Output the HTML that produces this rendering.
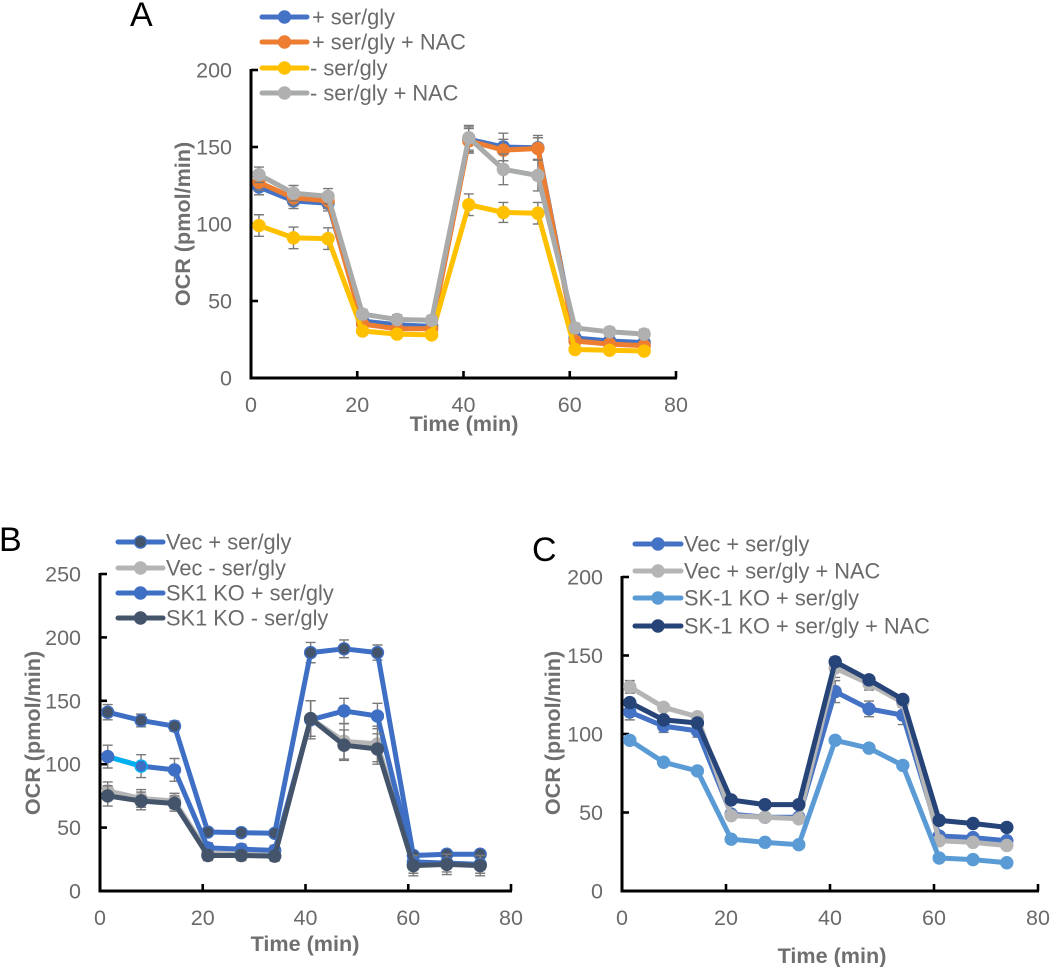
<!DOCTYPE html>
<html>
<head>
<meta charset="utf-8">
<title>OCR time course charts</title>
<style>
html,body{margin:0;padding:0;background:#fff;}
#stage{display:block;width:1050px;height:967px;font-family:"Liberation Sans",sans-serif;filter:blur(0.35px);}
text{font-family:"Liberation Sans",sans-serif;}
</style>
</head>
<body>
<svg id="stage" xmlns="http://www.w3.org/2000/svg" width="1050" height="967" viewBox="0 0 1050 967"></svg>
<script>
// Shared x axis data
const times = [1.5, 8, 14.5, 21, 27.5, 34, 41, 47.5, 54, 61, 67.5, 74];
const xTicks = [0, 20, 40, 60, 80];

// Panel A values
const aYTicks = [0, 50, 100, 150, 200];
const aPlusSerGly = [124, 115, 113.5, 37, 34.5, 33.5, 155, 150, 149.5, 26, 24, 23];
const aPlusSerGlyErr = [5, 5, 5, 4, 3, 3, 8, 9, 8, 4, 3, 3];
const aPlusNac = [127, 117, 115, 35, 32, 32, 154, 148, 149, 24, 22, 21];
const aPlusNacErr = [5, 5, 5, 3, 3, 3, 8, 7, 7, 3, 3, 3];
const aMinusSerGly = [99, 91, 90.5, 30.5, 28.5, 28, 112.5, 107.5, 107, 18.5, 18, 17.5];
const aMinusSerGlyErr = [7, 7, 7, 2, 2, 2, 7, 6.5, 7, 2, 2, 2];
const aMinusNac = [132, 120, 118, 41.5, 38, 37.5, 156, 135.5, 131.5, 32.5, 30, 28.5];
const aMinusNacErr = [5, 5, 5, 3, 3, 3, 8, 10, 10, 3, 3, 3];

// Panel B values
const bYTicks = [0, 50, 100, 150, 200, 250];
const bVecPlus = [141, 134.5, 130, 46.5, 46, 45.5, 188, 191, 188, 28, 29, 29];
const bVecPlusErr = [6, 5, 4, 3, 3, 3, 8, 7, 6, 3, 3, 3];
const bVecMinus = [79, 73, 71, 30, 29, 28, 136, 118, 116, 21, 22, 21];
const bVecMinusErr = [7, 7, 6, 3, 3, 3, 14, 14, 14, 7, 7, 7];
const bKoPlus = [106, 98.5, 95.5, 34, 33, 32, 135, 142, 138, 23, 22, 21];
const bKoPlusErr = [9, 9, 9, 4, 4, 4, 15, 10, 10, 3, 3, 3];
const bKoMinus = [75, 71, 69, 28, 28, 27.5, 136, 115, 112, 20, 21, 20];
const bKoMinusErr = [8, 7, 6, 4, 4, 4, 14, 12, 12, 8, 8, 8];

// Panel C values
const cYTicks = [0, 50, 100, 150, 200];
const cVecPlus = [114, 105, 102, 49, 47, 47, 127, 116, 112, 35, 34, 32];
const cVecPlusErr = [5, 4, 4, 1, 1, 1, 7, 5, 6, 1, 1, 1];
const cVecNac = [130, 117, 111, 48, 47, 46, 142, 132, 120, 32, 31, 29];
const cVecNacErr = [4, 2, 2, 1, 1, 1, 6, 4, 3, 1, 1, 1];
const cKoPlus = [96, 82, 76.5, 33, 31, 29.5, 96, 91, 80, 21, 20, 18];
const cKoPlusErr = [1, 1, 1, 1, 1, 1, 1, 1, 1, 1, 1, 1];
const cKoNac = [120, 109, 107, 58, 55, 55, 146, 134.5, 122, 45, 43, 40.5];
const cKoNacErr = [2, 2, 2, 1, 1, 1, 3, 2, 2, 1, 1, 1];

// Panel configuration
const panels = [
  {
    id: 'a', letter: 'A', letterX: 130, letterY: 26,
    x0: 251, x80: 676, y0: 378, yTop: 70, yMax: 200, yTicks: aYTicks,
    titleX: 190, titleY: 224, timeX: 464, timeY: 431, tickY: 412,
    legendX1: 262, legendX2: 307, legendTextX: [312, 312, 310, 310], legendY: [17, 42, 68, 93],
    series: [
      {name: '+ ser/gly', key: 'plus-ser-gly', vals: aPlusSerGly, errs: aPlusSerGlyErr, color: '#4472C4', fill: '#4472C4', edge: '#4472C4'},
      {name: '+ ser/gly + NAC', key: 'plus-ser-gly-nac', vals: aPlusNac, errs: aPlusNacErr, color: '#ED7D31', fill: '#ED7D31', edge: '#ED7D31'},
      {name: '- ser/gly', key: 'minus-ser-gly', vals: aMinusSerGly, errs: aMinusSerGlyErr, color: '#FFC000', fill: '#FFC000', edge: '#FFC000'},
      {name: '- ser/gly + NAC', key: 'minus-ser-gly-nac', vals: aMinusNac, errs: aMinusNacErr, color: '#A9ABAB', fill: '#B0B0B0', edge: '#B0B0B0'}
    ]
  },
  {
    id: 'b', letter: 'B', letterX: -1, letterY: 551,
    x0: 100, x80: 511, y0: 891, yTop: 574, yMax: 250, yTicks: bYTicks,
    titleX: 40, titleY: 733, timeX: 305, timeY: 951, tickY: 925,
    legendX1: 118, legendX2: 163, legendTextX: [166, 166, 166, 166], legendY: [542, 568, 593, 618],
    series: [
      {name: 'Vec + ser/gly', key: 'vec-plus', vals: bVecPlus, errs: bVecPlusErr, color: '#3E6FC4', fill: '#44546A', edge: '#3E6FC4'},
      {name: 'Vec - ser/gly', key: 'vec-minus', vals: bVecMinus, errs: bVecMinusErr, color: '#B5B5B5', fill: '#B5B5B5', edge: '#B5B5B5'},
      {name: 'SK1 KO + ser/gly', key: 'sk1-plus', vals: bKoPlus, errs: bKoPlusErr, color: '#3E6FC4', fill: '#3E6FC4', edge: '#3E6FC4', accent: '#00B0F0'},
      {name: 'SK1 KO - ser/gly', key: 'sk1-minus', vals: bKoMinus, errs: bKoMinusErr, color: '#44546A', fill: '#44546A', edge: '#44546A'}
    ]
  },
  {
    id: 'c', letter: 'C', letterX: 532, letterY: 561,
    x0: 622, x80: 1038, y0: 891, yTop: 577, yMax: 200, yTicks: cYTicks,
    titleX: 560, titleY: 733, timeX: 832, timeY: 963, tickY: 925,
    legendX1: 635, legendX2: 681, legendTextX: [684, 684, 684, 684], legendY: [544, 571, 598, 626],
    series: [
      {name: 'Vec + ser/gly', key: 'vec-plus', vals: cVecPlus, errs: cVecPlusErr, color: '#4472C4', fill: '#4472C4', edge: '#4472C4'},
      {name: 'Vec + ser/gly + NAC', key: 'vec-plus-nac', vals: cVecNac, errs: cVecNacErr, color: '#B5B5B5', fill: '#B5B5B5', edge: '#B5B5B5'},
      {name: 'SK-1 KO + ser/gly', key: 'sk1-plus', vals: cKoPlus, errs: cKoPlusErr, color: '#5B9BD5', fill: '#5B9BD5', edge: '#5B9BD5'},
      {name: 'SK-1 KO + ser/gly + NAC', key: 'sk1-plus-nac', vals: cKoNac, errs: cKoNacErr, color: '#264478', fill: '#264478', edge: '#264478'}
    ]
  }
];

const NS = 'http://www.w3.org/2000/svg';
const stage = document.getElementById('stage');

function make(tag, parent, attrs, content) {
  const el = document.createElementNS(NS, tag);
  for (const k in attrs) el.setAttribute(k, attrs[k]);
  if (content !== undefined) el.textContent = content;
  parent.appendChild(el);
  return el;
}

function drawPanel(p) {
  const xScale = v => p.x0 + (v / 80) * (p.x80 - p.x0);
  const yScale = v => p.y0 - (v / p.yMax) * (p.y0 - p.yTop);

  const g = make('g', stage, {});
  
  

  const letter = make('text', g, {x: p.letterX, y: p.letterY, 'font-size': 34, fill: '#000'}, p.letter);
  
  

  // Axes
  const yAxis = make('line', g, {x1: p.x0, x2: p.x0, y1: p.yTop - 1, y2: p.y0 + 1.5, stroke: '#000', 'stroke-width': 3});
  
  
  const xAxis = make('line', g, {x1: p.x0 - 1, x2: p.x80 + 1, y1: p.y0, y2: p.y0, stroke: '#000', 'stroke-width': 3});
  
  

  p.yTicks.forEach(t => {
    const y = yScale(t);
    if (t > 0) {
      const mark = make('line', g, {x1: p.x0, x2: p.x0 + 7, y1: y, y2: y, stroke: '#000', 'stroke-width': 2.6});
      
      
    }
    const label = make('text', g, {x: p.x0 - 19, y: y + 7.5, 'font-size': 21.5, fill: '#6a6a6a', 'text-anchor': 'end'}, String(t));
    
    
  });

  xTicks.forEach(t => {
    const x = xScale(t);
    if (t > 0) {
      const mark = make('line', g, {x1: x, x2: x, y1: p.y0 - 7, y2: p.y0, stroke: '#000', 'stroke-width': 2.6});
      
      
    }
    const label = make('text', g, {x: x, y: p.tickY, 'font-size': 21.5, fill: '#6a6a6a', 'text-anchor': 'middle'}, String(t));
    
    
  });

  const yTitle = make('text', g, {x: 0, y: 0, transform: 'translate(' + p.titleX + ',' + p.titleY + ') rotate(-90)', 'font-size': 21.6, 'font-weight': 'bold', fill: '#6f6f6f', 'text-anchor': 'middle'}, 'OCR (pmol/min)');
  
  
  const xTitle = make('text', g, {x: p.timeX, y: p.timeY, 'font-size': 21.6, 'font-weight': 'bold', fill: '#6f6f6f', 'text-anchor': 'middle'}, 'Time (min)');
  
  

  // Series
  p.series.forEach(s => {
    const sg = make('g', g, {});
    
    

    s.vals.forEach((v, i) => {
      const x = xScale(times[i]);
      const top = yScale(v + s.errs[i]);
      const bottom = yScale(v - s.errs[i]);
      const err = make('path', sg, {d: 'M' + (x - 5) + ' ' + top + 'H' + (x + 5) + 'M' + x + ' ' + top + 'V' + bottom + 'M' + (x - 5) + ' ' + bottom + 'H' + (x + 5), fill: 'none', stroke: '#7a7a7a', 'stroke-width': 1.4});
      
      
    });

    const pts = s.vals.map((v, i) => xScale(times[i]) + ',' + yScale(v)).join(' ');
    const line = make('polyline', sg, {points: pts, fill: 'none', stroke: s.color, 'stroke-width': 5, 'stroke-linejoin': 'round'});
    
    

    if (s.accent) {
      const seg = make('line', sg, {x1: xScale(times[0]), y1: yScale(s.vals[0]), x2: xScale(times[1]), y2: yScale(s.vals[1]), stroke: s.accent, 'stroke-width': 5});
      
      
    }

    s.vals.forEach((v, i) => {
      const edge = (s.accent && i === 1) ? s.accent : s.edge;
      const pt = make('circle', sg, {cx: xScale(times[i]), cy: yScale(v), r: 6, fill: s.fill, stroke: edge, 'stroke-width': 1.4});
      
      
    });
  });

  // Legend
  p.series.forEach((s, i) => {
    const ly = p.legendY[i];
    const lg = make('g', g, {});
    
    
    make('line', lg, {x1: p.legendX1, x2: p.legendX2, y1: ly, y2: ly, stroke: s.color, 'stroke-width': 5, 'stroke-linecap': 'round'});
    make('circle', lg, {cx: (p.legendX1 + p.legendX2) / 2, cy: ly, r: 6, fill: s.fill, stroke: s.edge, 'stroke-width': 1.4});
    make('text', lg, {x: p.legendTextX[i], y: ly + 7.5, 'font-size': 21.8, fill: '#6a6a6a'}, s.name);
  });
}

panels.forEach(drawPanel);
</script>
</body>
</html>
